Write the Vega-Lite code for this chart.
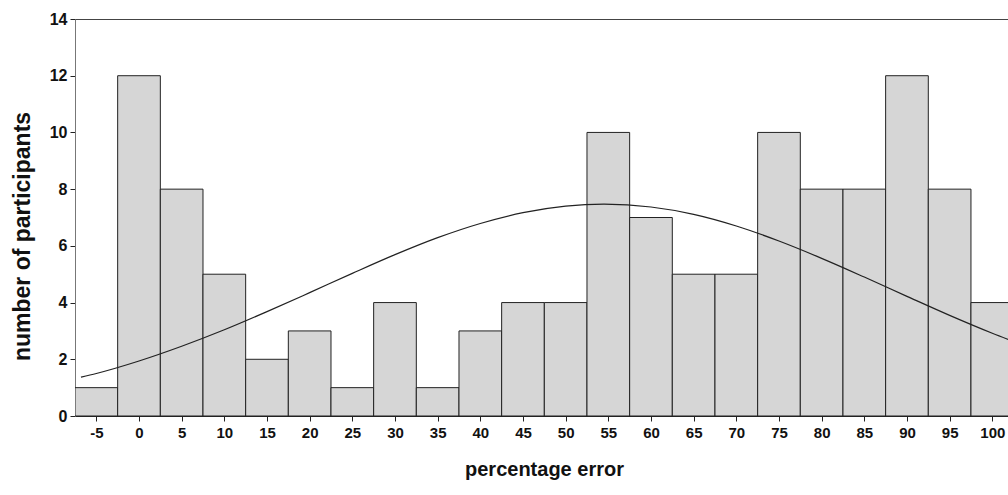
{
  "$schema": "https://vega.github.io/schema/vega-lite/v6.json",
  "width": 933,
  "height": 397,
  "autosize": {"type": "none"},
  "padding": {"left": 75, "top": 19, "right": 0, "bottom": 79},
  "background": "white",
  "config": {
    "view": {"stroke": "#444", "strokeWidth": 1},
    "font": "Liberation Sans"
  },
  "datasets": {
    "bars": [
      {"error": -5, "lo": -7.5, "hi": -2.5, "count": 1},
      {"error": 0, "lo": -2.5, "hi": 2.5, "count": 12},
      {"error": 5, "lo": 2.5, "hi": 7.5, "count": 8},
      {"error": 10, "lo": 7.5, "hi": 12.5, "count": 5},
      {"error": 15, "lo": 12.5, "hi": 17.5, "count": 2},
      {"error": 20, "lo": 17.5, "hi": 22.5, "count": 3},
      {"error": 25, "lo": 22.5, "hi": 27.5, "count": 1},
      {"error": 30, "lo": 27.5, "hi": 32.5, "count": 4},
      {"error": 35, "lo": 32.5, "hi": 37.5, "count": 1},
      {"error": 40, "lo": 37.5, "hi": 42.5, "count": 3},
      {"error": 45, "lo": 42.5, "hi": 47.5, "count": 4},
      {"error": 50, "lo": 47.5, "hi": 52.5, "count": 4},
      {"error": 55, "lo": 52.5, "hi": 57.5, "count": 10},
      {"error": 60, "lo": 57.5, "hi": 62.5, "count": 7},
      {"error": 65, "lo": 62.5, "hi": 67.5, "count": 5},
      {"error": 70, "lo": 67.5, "hi": 72.5, "count": 5},
      {"error": 75, "lo": 72.5, "hi": 77.5, "count": 10},
      {"error": 80, "lo": 77.5, "hi": 82.5, "count": 8},
      {"error": 85, "lo": 82.5, "hi": 87.5, "count": 8},
      {"error": 90, "lo": 87.5, "hi": 92.5, "count": 12},
      {"error": 95, "lo": 92.5, "hi": 97.5, "count": 8},
      {"error": 100, "lo": 97.5, "hi": 102.5, "count": 4}
    ],
    "curve": [
      {"x": -6.8, "y": 1.37},
      {"x": -5, "y": 1.50},
      {"x": 0, "y": 1.94},
      {"x": 5, "y": 2.46},
      {"x": 10, "y": 3.04},
      {"x": 15, "y": 3.68},
      {"x": 20, "y": 4.35},
      {"x": 25, "y": 5.03},
      {"x": 30, "y": 5.69},
      {"x": 35, "y": 6.29},
      {"x": 40, "y": 6.79},
      {"x": 45, "y": 7.17},
      {"x": 50, "y": 7.40},
      {"x": 54.5, "y": 7.47},
      {"x": 60, "y": 7.37},
      {"x": 65, "y": 7.11},
      {"x": 70, "y": 6.70},
      {"x": 75, "y": 6.17},
      {"x": 80, "y": 5.56},
      {"x": 85, "y": 4.90},
      {"x": 90, "y": 4.22},
      {"x": 95, "y": 3.55},
      {"x": 100, "y": 2.92},
      {"x": 102.5, "y": 2.63}
    ]
  },
  "layer": [
    {
      "data": {"name": "bars"},
      "mark": {"type": "bar", "fill": "#d6d6d6", "stroke": "#222", "strokeWidth": 1, "clip": true},
      "encoding": {
        "x": {
          "field": "lo", "type": "quantitative",
          "scale": {"domain": [-7.5, 101.84], "nice": false, "zero": false},
          "axis": {
            "values": [-5, 0, 5, 10, 15, 20, 25, 30, 35, 40, 45, 50, 55, 60, 65, 70, 75, 80, 85, 90, 95, 100],
            "labelExpr": "replace(datum.label, '\u2212', '-')",
            "title": "percentage error",
            "titleFont": "Liberation Sans", "titleFontSize": 20, "titleFontWeight": "bold", "titleColor": "#111",
            "titleBaseline": "alphabetic", "titleAlign": "center", "titleX": 469, "titleY": 59,
            "labelFont": "Liberation Sans", "labelFontSize": 15, "labelFontWeight": "bold", "labelColor": "#111",
            "labelPadding": 4, "labelFlush": false, "labelOverlap": false,
            "tickSize": 5, "tickColor": "#222", "domainColor": "#222", "grid": false
          }
        },
        "x2": {"field": "hi"},
        "y": {
          "field": "count", "type": "quantitative",
          "scale": {"domain": [0, 14], "nice": false},
          "axis": {
            "values": [0, 2, 4, 6, 8, 10, 12, 14],
            "title": "number of participants",
            "titleFont": "Liberation Sans", "titleFontSize": 23, "titleFontWeight": "bold", "titleColor": "#111",
            "titleAngle": -90, "titleBaseline": "alphabetic", "titleAlign": "center", "titleX": -46, "titleY": 217,
            "labelFont": "Liberation Sans", "labelFontSize": 16, "labelFontWeight": "bold", "labelColor": "#111",
            "labelPadding": 3, "labelFlush": false,
            "tickSize": 5, "tickColor": "#222", "domainColor": "#777", "grid": false
          }
        },
        "y2": {"datum": 0}
      }
    },
    {
      "data": {"name": "curve"},
      "mark": {"type": "line", "color": "#222", "strokeWidth": 1.2, "interpolate": "monotone", "clip": true},
      "encoding": {
        "x": {"field": "x", "type": "quantitative"},
        "y": {"field": "y", "type": "quantitative"}
      }
    }
  ]
}
